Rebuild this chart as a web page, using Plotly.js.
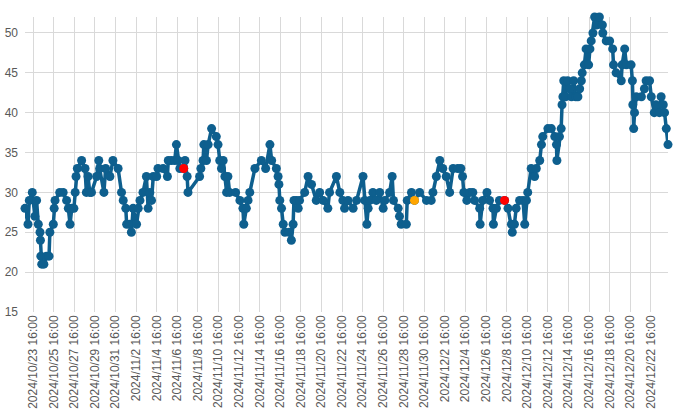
<!DOCTYPE html>
<html>
<head>
<meta charset="utf-8">
<script src="https://cdn.plot.ly/plotly-3.0.1.min.js"></script>
<style>
  html, body { margin: 0; padding: 0; background: #ffffff; }
  #chart { width: 700px; height: 415px; }
</style>
</head>
<body>
<div id="chart"></div>
<script>
var times = [
    '2024-10-22 21:00', '2024-10-23 04:00', '2024-10-23 07:00', '2024-10-23 14:00', '2024-10-23 20:00',
    '2024-10-24 00:00', '2024-10-24 04:00', '2024-10-24 08:00', '2024-10-24 09:00', '2024-10-24 10:00',
    '2024-10-24 12:00', '2024-10-24 17:00', '2024-10-24 23:00', '2024-10-25 05:00', '2024-10-25 07:00',
    '2024-10-25 15:00', '2024-10-25 17:00', '2024-10-25 19:00', '2024-10-26 06:00', '2024-10-26 14:00',
    '2024-10-26 22:00', '2024-10-27 02:00', '2024-10-27 06:00', '2024-10-27 10:00', '2024-10-27 15:00',
    '2024-10-27 18:00', '2024-10-27 20:00', '2024-10-27 23:00', '2024-10-28 09:00', '2024-10-28 17:00',
    '2024-10-28 20:00', '2024-10-29 00:00', '2024-10-29 04:00', '2024-10-29 08:00', '2024-10-29 20:00',
    '2024-10-30 01:00', '2024-10-30 03:00', '2024-10-30 13:00', '2024-10-30 17:00', '2024-10-31 03:00',
    '2024-10-31 10:00', '2024-10-31 22:00', '2024-11-01 06:00', '2024-11-01 10:00', '2024-11-01 16:00',
    '2024-11-01 18:00', '2024-11-02 01:00', '2024-11-02 05:00', '2024-11-02 09:00', '2024-11-02 17:00',
    '2024-11-02 21:00', '2024-11-03 01:00', '2024-11-03 08:00', '2024-11-03 16:00', '2024-11-03 20:00',
    '2024-11-04 00:00', '2024-11-04 04:00', '2024-11-04 08:00', '2024-11-04 16:00', '2024-11-04 19:00',
    '2024-11-05 07:00', '2024-11-05 17:00', '2024-11-05 19:00', '2024-11-06 02:00', '2024-11-06 10:00',
    '2024-11-06 14:00', '2024-11-06 18:00', '2024-11-06 22:00', '2024-11-07 07:00', '2024-11-07 10:00',
    '2024-11-07 15:00', '2024-11-07 17:00', '2024-11-08 20:00', '2024-11-08 23:00', '2024-11-09 04:00',
    '2024-11-09 06:00', '2024-11-09 12:00', '2024-11-09 16:00', '2024-11-10 00:00', '2024-11-10 11:00',
    '2024-11-10 15:00', '2024-11-10 19:00', '2024-11-10 23:00', '2024-11-11 03:00', '2024-11-11 07:00',
    '2024-11-11 11:00', '2024-11-11 14:00', '2024-11-11 18:00', '2024-11-12 08:00', '2024-11-12 18:00',
    '2024-11-13 01:00', '2024-11-13 03:00', '2024-11-13 09:00', '2024-11-13 13:00', '2024-11-13 17:00',
    '2024-11-14 05:00', '2024-11-14 20:00', '2024-11-15 06:00', '2024-11-15 16:00', '2024-11-15 20:00',
    '2024-11-16 07:00', '2024-11-16 11:00', '2024-11-16 13:00', '2024-11-16 15:00', '2024-11-16 19:00',
    '2024-11-16 23:00', '2024-11-17 03:00', '2024-11-17 13:00', '2024-11-17 18:00', '2024-11-17 22:00',
    '2024-11-18 00:00', '2024-11-18 06:00', '2024-11-18 10:00', '2024-11-18 13:00', '2024-11-19 01:00',
    '2024-11-19 09:00', '2024-11-19 17:00', '2024-11-20 04:00', '2024-11-20 12:00', '2024-11-20 20:00',
    '2024-11-21 07:00', '2024-11-21 11:00', '2024-11-22 03:00', '2024-11-22 11:00', '2024-11-22 18:00',
    '2024-11-22 22:00', '2024-11-23 06:00', '2024-11-23 18:00', '2024-11-24 02:00', '2024-11-24 17:00',
    '2024-11-24 21:00', '2024-11-25 02:00', '2024-11-25 05:00', '2024-11-25 09:00', '2024-11-25 16:00',
    '2024-11-26 00:00', '2024-11-26 08:00', '2024-11-26 16:00', '2024-11-26 20:00', '2024-11-27 07:00',
    '2024-11-27 13:00', '2024-11-27 16:00', '2024-11-28 03:00', '2024-11-28 06:00', '2024-11-28 10:00',
    '2024-11-28 22:00', '2024-11-29 00:00', '2024-11-29 10:00', '2024-11-29 17:00', '2024-11-30 05:00',
    '2024-11-30 21:00', '2024-12-01 08:00', '2024-12-01 12:00', '2024-12-01 20:00', '2024-12-02 04:00',
    '2024-12-02 11:00', '2024-12-02 19:00', '2024-12-03 03:00', '2024-12-03 11:00', '2024-12-03 22:00',
    '2024-12-04 05:00', '2024-12-04 09:00', '2024-12-04 12:00', '2024-12-04 19:00', '2024-12-05 02:00',
    '2024-12-05 09:00', '2024-12-05 13:00', '2024-12-06 01:00', '2024-12-06 02:00', '2024-12-06 08:00',
    '2024-12-06 18:00', '2024-12-07 00:00', '2024-12-07 08:00', '2024-12-07 09:00', '2024-12-07 16:00',
    '2024-12-07 23:00', '2024-12-08 11:00', '2024-12-08 19:00', '2024-12-09 03:00', '2024-12-09 05:00',
    '2024-12-09 10:00', '2024-12-09 14:00', '2024-12-09 22:00', '2024-12-10 06:00', '2024-12-10 10:00',
    '2024-12-10 14:00', '2024-12-10 17:00', '2024-12-11 01:00', '2024-12-11 09:00', '2024-12-11 13:00',
    '2024-12-11 21:00', '2024-12-12 01:00', '2024-12-12 04:00', '2024-12-12 16:00', '2024-12-13 00:00',
    '2024-12-13 08:00', '2024-12-13 12:00', '2024-12-13 13:00', '2024-12-13 19:00', '2024-12-13 23:00',
    '2024-12-14 01:00', '2024-12-14 03:00', '2024-12-14 05:00', '2024-12-14 09:00', '2024-12-14 14:00',
    '2024-12-14 19:00', '2024-12-14 23:00', '2024-12-15 04:00', '2024-12-15 09:00', '2024-12-15 14:00',
    '2024-12-15 18:00', '2024-12-15 22:00', '2024-12-16 00:00', '2024-12-16 05:00', '2024-12-16 09:00',
    '2024-12-16 15:00', '2024-12-16 18:00', '2024-12-16 21:00', '2024-12-17 01:00', '2024-12-17 05:00',
    '2024-12-17 09:00', '2024-12-17 16:00', '2024-12-17 23:00', '2024-12-18 00:00', '2024-12-18 08:00',
    '2024-12-18 16:00', '2024-12-18 23:00', '2024-12-19 01:00', '2024-12-19 07:00', '2024-12-19 19:00',
    '2024-12-19 21:00', '2024-12-20 03:00', '2024-12-20 07:00', '2024-12-20 18:00', '2024-12-20 21:00',
    '2024-12-20 22:00', '2024-12-21 00:00', '2024-12-21 02:00', '2024-12-21 06:00', '2024-12-21 18:00',
    '2024-12-22 01:00', '2024-12-22 05:00', '2024-12-22 13:00', '2024-12-22 17:00', '2024-12-23 00:00',
    '2024-12-23 04:00', '2024-12-23 12:00', '2024-12-23 16:00', '2024-12-23 21:00', '2024-12-24 00:00',
    '2024-12-24 04:00', '2024-12-24 08:00'
];

var values = [
    28, 26, 29, 30, 27,
    29, 26, 25, 24, 22,
    21, 21, 22, 22, 25,
    26, 28, 29, 30, 30,
    29, 28, 26, 28, 28,
    30, 32, 33, 34, 33,
    30, 32, 30, 30, 32,
    34, 33, 30, 33, 32,
    34, 33, 30, 29, 28,
    26, 26, 25, 28, 26,
    28, 29, 30, 32, 28,
    30, 29, 32, 32, 33,
    33, 32, 34, 34, 34,
    36, 34, 33, 33, 34,
    32, 30, 32, 33, 34,
    36, 34, 36, 38, 37,
    36, 34, 33, 34, 32,
    30, 32, 30, 30, 29,
    28, 26, 28, 29, 30,
    33, 34, 33, 36, 34,
    33, 32, 31, 29, 28,
    26, 25, 25, 24, 26,
    29, 29, 28, 29, 30,
    32, 31, 29, 30, 29,
    28, 30, 32, 30, 29,
    28, 29, 28, 29, 32,
    29, 26, 28, 29, 30,
    29, 30, 28, 29, 30,
    32, 29, 28, 27, 26,
    26, 29, 30, 29, 30,
    29, 29, 30, 32, 34,
    33, 32, 30, 33, 33,
    33, 32, 30, 29, 30,
    30, 29, 28, 26, 29,
    30, 29, 28, 26, 28,
    29, 29, 28, 26, 25,
    26, 28, 29, 29, 26,
    29, 30, 33, 32, 33,
    34, 36, 37, 38, 38,
    37, 36, 34, 37, 38,
    41, 42, 44, 42, 44,
    43, 42, 44, 42, 42,
    43, 44, 45, 46, 48,
    46, 48, 49, 50, 52,
    51, 52, 51, 50, 49,
    49, 48, 46, 45, 44,
    46, 48, 46, 46, 44,
    41, 38, 40, 42, 42,
    43, 44, 44, 42, 40,
    41, 40, 42, 41, 40,
    38, 36
];

// highlighted readings
var redTimes = ['2024-11-07 07:00', '2024-12-08 11:00'];
var redValues = [33, 29];
var orangeTimes = ['2024-11-29 17:00'];
var orangeValues = [29];

var tickLabels = [
    '2024/10/23 16:00', '2024/10/25 16:00', '2024/10/27 16:00', '2024/10/29 16:00', '2024/10/31 16:00',
    '2024/11/2 16:00', '2024/11/4 16:00', '2024/11/6 16:00', '2024/11/8 16:00', '2024/11/10 16:00',
    '2024/11/12 16:00', '2024/11/14 16:00', '2024/11/16 16:00', '2024/11/18 16:00', '2024/11/20 16:00',
    '2024/11/22 16:00', '2024/11/24 16:00', '2024/11/26 16:00', '2024/11/28 16:00', '2024/11/30 16:00',
    '2024/12/2 16:00', '2024/12/4 16:00', '2024/12/6 16:00', '2024/12/8 16:00', '2024/12/10 16:00',
    '2024/12/12 16:00', '2024/12/14 16:00', '2024/12/16 16:00', '2024/12/18 16:00', '2024/12/20 16:00',
    '2024/12/22 16:00'
];

var tickVals = [];
for (let i = 0; i < tickLabels.length; i++){
    tickVals.push(tickLabels[i].replace(/\//g, '-'));
}

var blue = '#0e5f8e';
var textColor = '#595959';
var gridColor = '#d9d9d9';

var traces = [];
traces.push({
    x: times,
    y: values,
    type: 'scatter',
    mode: 'lines+markers',
    cliponaxis: false,
    line: { color: blue, width: 3.5 },
    marker: { color: blue, size: 9 },
    hoverinfo: 'x+y'
});
traces.push({
    x: redTimes,
    y: redValues,
    type: 'scatter',
    mode: 'markers',
    cliponaxis: false,
    marker: { color: '#ff0000', size: 9 }
});
traces.push({
    x: orangeTimes,
    y: orangeValues,
    type: 'scatter',
    mode: 'markers',
    cliponaxis: false,
    marker: { color: '#ffa500', size: 9 }
});

var layout = {
    width: 700,
    height: 415,
    showlegend: false,
    paper_bgcolor: '#ffffff',
    plot_bgcolor: '#ffffff',
    margin: { l: 25, r: 32, t: 17, b: 103 },
    font: { family: '"Liberation Sans", Arial, sans-serif', size: 12, color: textColor },
    xaxis: {
        type: 'date',
        range: [times[0], times[times.length - 1]],
        tickmode: 'array',
        tickvals: tickVals,
        ticktext: tickLabels,
        tickangle: -90,
        tickfont: { size: 12, color: textColor },
        showgrid: true,
        gridcolor: gridColor,
        gridwidth: 1,
        zeroline: false,
        showline: false,
        ticks: ''
    },
    yaxis: {
        range: [15, 52],
        tick0: 15,
        dtick: 5,
        tickfont: { size: 12, color: textColor },
        showgrid: true,
        gridcolor: gridColor,
        gridwidth: 1,
        zeroline: false,
        showline: false,
        ticks: '',
        ticklabelstandoff: 6
    }
};

Plotly.newPlot('chart', traces, layout, { displayModeBar: false, staticPlot: true });
</script>
</body>
</html>
